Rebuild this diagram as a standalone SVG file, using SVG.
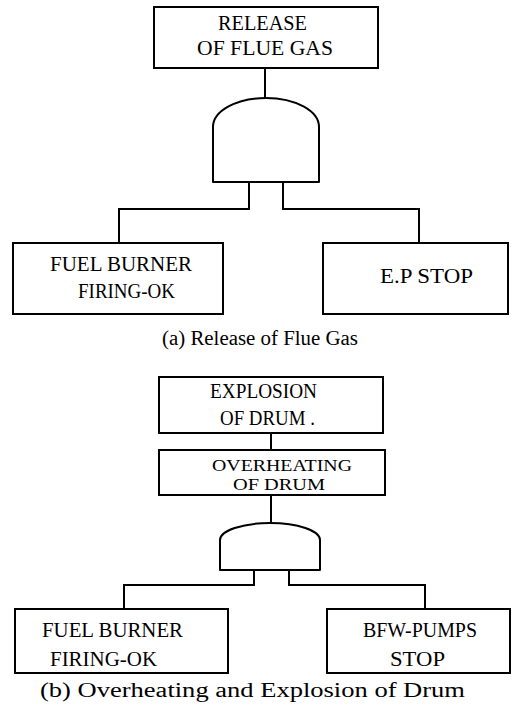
<svg xmlns="http://www.w3.org/2000/svg" width="513" height="706" viewBox="0 0 513 706">
<style>
.box{fill:#fff;stroke:#000;stroke-width:2}
.gate{fill:#fff;stroke:#000;stroke-width:2;stroke-linejoin:round}
.con{fill:none;stroke:#000;stroke-width:2}
.t{font-family:"Liberation Serif","Times New Roman",serif;font-size:21px;fill:#000;text-anchor:middle}
.s{font-size:16.5px}
.c{font-family:"Liberation Serif","Times New Roman",serif;font-size:20px;fill:#000;text-anchor:middle}
</style>
<rect width="513" height="706" fill="#fff"/>
<g id="connectors">
<path class="con" d="M265,68 V98"/>
<path class="con" d="M249,182 V209 H119 V243"/>
<path class="con" d="M283,182 V209 H419 V243"/>
<path class="con" d="M271,433 V450"/>
<path class="con" d="M271,495 V523"/>
<path class="con" d="M254,570 V585 H124 V609"/>
<path class="con" d="M289,570 V585 H425 V609"/>
</g>
<g id="release">
<rect class="box" x="154" y="7" width="224" height="61"/>
<text class="t" x="262.5" y="30" textLength="89" lengthAdjust="spacingAndGlyphs">RELEASE</text>
<text class="t" x="265" y="55" textLength="136" lengthAdjust="spacingAndGlyphs">OF FLUE GAS</text>
</g>
<g id="and-gate-a">
<path class="gate" d="M213,182 V127 A53,29 0 0 1 319,127 V182 Z"/>
</g>
<g id="fuel-burner-a">
<rect class="box" x="13" y="243" width="210" height="71"/>
<text class="t" x="121" y="271" textLength="142" lengthAdjust="spacingAndGlyphs">FUEL BURNER</text>
<text class="t" x="126.5" y="298" textLength="97" lengthAdjust="spacingAndGlyphs">FIRING-OK</text>
</g>
<g id="ep-stop">
<rect class="box" x="323" y="243" width="185" height="71"/>
<text class="t" x="426.5" y="283" textLength="93" lengthAdjust="spacingAndGlyphs">E.P STOP</text>
</g>
<g id="caption-a">
<text class="c" x="260" y="345" textLength="196" lengthAdjust="spacingAndGlyphs">(a) Release of Flue Gas</text>
</g>
<g id="explosion">
<rect class="box" x="159" y="377" width="224" height="56"/>
<text class="t" x="263.5" y="398" textLength="107" lengthAdjust="spacingAndGlyphs">EXPLOSION</text>
<text class="t" x="267.5" y="425" textLength="95" lengthAdjust="spacingAndGlyphs">OF DRUM .</text>
</g>
<g id="overheating">
<rect class="box" x="159" y="450" width="226" height="45"/>
<text class="t s" x="282" y="471" textLength="140" lengthAdjust="spacingAndGlyphs">OVERHEATING</text>
<text class="t s" x="279" y="490" textLength="92" lengthAdjust="spacingAndGlyphs">OF DRUM</text>
</g>
<g id="and-gate-b">
<path class="gate" d="M220,570 V540 A50,17 0 0 1 320,540 V570 Z"/>
</g>
<g id="fuel-burner-b">
<rect class="box" x="15" y="609" width="213" height="64"/>
<text class="t" x="112.5" y="637" textLength="141" lengthAdjust="spacingAndGlyphs">FUEL BURNER</text>
<text class="t" x="103.5" y="666" textLength="107" lengthAdjust="spacingAndGlyphs">FIRING-OK</text>
</g>
<g id="bfw-pumps">
<rect class="box" x="327" y="609" width="183" height="64"/>
<text class="t" x="420" y="637" textLength="114" lengthAdjust="spacingAndGlyphs">BFW-PUMPS</text>
<text class="t" x="417.5" y="666" textLength="55" lengthAdjust="spacingAndGlyphs">STOP</text>
</g>
<g id="caption-b">
<text class="c" x="252.5" y="697" textLength="425" lengthAdjust="spacingAndGlyphs">(b) Overheating and Explosion of Drum</text>
</g>
</svg>
